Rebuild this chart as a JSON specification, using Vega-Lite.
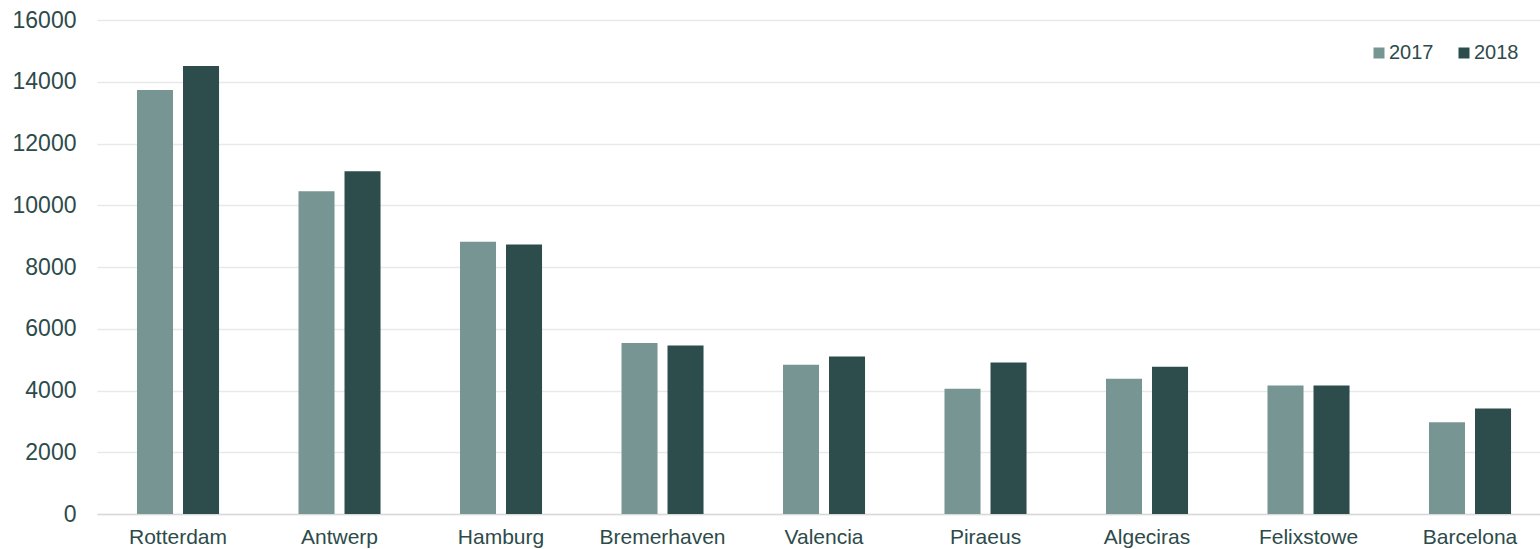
{
  "$schema": "https://vega.github.io/schema/vega-lite/v6.json",
  "autosize": "none",
  "width": 1443,
  "height": 494,
  "padding": {"left": 97, "top": 20, "right": 0, "bottom": 35},
  "background": "white",
  "config": {
    "view": {"stroke": null},
    "font": "Liberation Sans"
  },
  "data": {
    "values": [
      {"port": "Rotterdam", "year": "2017", "value": 13734},
      {"port": "Rotterdam", "year": "2018", "value": 14513},
      {"port": "Antwerp", "year": "2017", "value": 10450},
      {"port": "Antwerp", "year": "2018", "value": 11100},
      {"port": "Hamburg", "year": "2017", "value": 8820},
      {"port": "Hamburg", "year": "2018", "value": 8730},
      {"port": "Bremerhaven", "year": "2017", "value": 5540},
      {"port": "Bremerhaven", "year": "2018", "value": 5460},
      {"port": "Valencia", "year": "2017", "value": 4830},
      {"port": "Valencia", "year": "2018", "value": 5100},
      {"port": "Piraeus", "year": "2017", "value": 4060},
      {"port": "Piraeus", "year": "2018", "value": 4910},
      {"port": "Algeciras", "year": "2017", "value": 4380},
      {"port": "Algeciras", "year": "2018", "value": 4770},
      {"port": "Felixstowe", "year": "2017", "value": 4160},
      {"port": "Felixstowe", "year": "2018", "value": 4160},
      {"port": "Barcelona", "year": "2017", "value": 2970},
      {"port": "Barcelona", "year": "2018", "value": 3420}
    ]
  },
  "mark": {"type": "bar"},
  "encoding": {
    "x": {
      "field": "port",
      "type": "nominal",
      "sort": null,
      "scale": {"paddingInner": 0.492, "paddingOuter": 0.2135, "align": 0.58},
      "axis": {
        "title": null,
        "labelAngle": 0,
        "labelFontSize": 21,
        "labelColor": "#2d4b4a",
        "labelPadding": 12,
        "labelOverlap": false,
        "ticks": false,
        "domainColor": "#d9d9d9",
        "domainWidth": 1.5,
        "grid": false
      }
    },
    "xOffset": {
      "field": "year",
      "type": "nominal",
      "scale": {"paddingInner": 0.217, "paddingOuter": 0}
    },
    "y": {
      "field": "value",
      "type": "quantitative",
      "scale": {"domain": [0, 16000], "nice": false},
      "axis": {
        "title": null,
        "values": [0, 2000, 4000, 6000, 8000, 10000, 12000, 14000, 16000],
        "format": "d",
        "labelFontSize": 23,
        "labelColor": "#2d4b4a",
        "labelPadding": 21,
        "labelOverlap": false,
        "ticks": false,
        "domain": false,
        "gridColor": "#e6e9e8",
        "gridWidth": 1.5
      }
    },
    "color": {
      "field": "year",
      "type": "nominal",
      "scale": {"domain": ["2017", "2018"], "range": ["#769593", "#2c4d4c"]},
      "legend": {
        "title": null,
        "orient": "none",
        "legendX": 1272,
        "legendY": 23,
        "direction": "horizontal",
        "symbolType": "square",
        "symbolSize": 121,
        "symbolStrokeWidth": 0,
        "labelFontSize": 20,
        "labelColor": "#2d4b4a",
        "labelOffset": 0,
        "columnPadding": 20
      }
    }
  }
}
